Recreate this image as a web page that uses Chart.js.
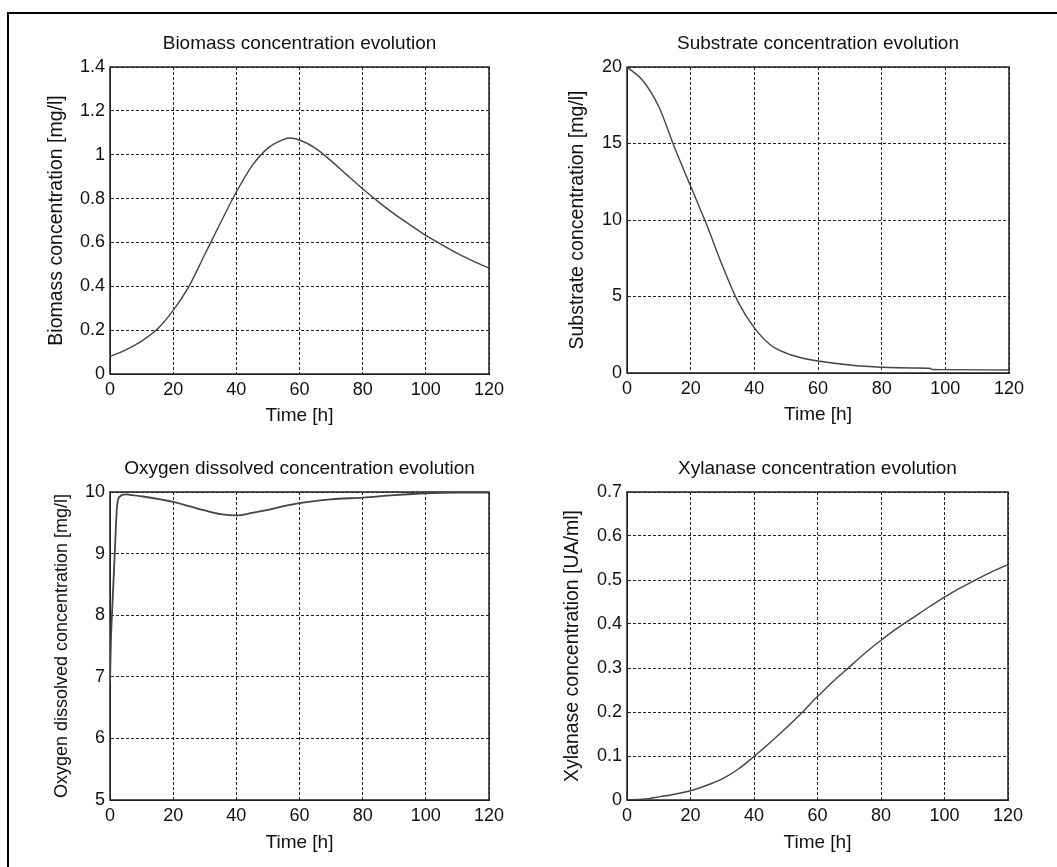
<!DOCTYPE html>
<html>
<head>
<meta charset="utf-8">
<script src="https://cdn.jsdelivr.net/npm/chart.js@4.4.1/dist/chart.umd.min.js"></script>
<style>
  body { margin: 0; background: #fff; width: 1057px; height: 867px; overflow: hidden; position: relative; }
  .frame { position: absolute; left: 7px; top: 12px; width: 1070px; height: 880px; border-top: 2px solid #000; border-left: 2px solid #000; }
  canvas { position: absolute; }
</style>
</head>
<body>
<div class="frame"></div>
<canvas id="biomass"></canvas>
<canvas id="substrate"></canvas>
<canvas id="oxygen"></canvas>
<canvas id="xylanase"></canvas>
<script>
// Fermentation model: four state variables against time.

const timeTicks = [0, 20, 40, 60, 80, 100, 120];

const biomassTime = [0, 5, 10, 15, 20, 25, 30, 35, 40, 45, 50, 55, 57, 60, 65, 70, 75, 80, 85, 90, 95, 100, 105, 110, 115, 120];
const biomassValues = [0.08, 0.11, 0.15, 0.205, 0.29, 0.40, 0.545, 0.69, 0.83, 0.95, 1.03, 1.07, 1.076, 1.067, 1.03, 0.972, 0.908, 0.845, 0.785, 0.73, 0.68, 0.632, 0.59, 0.55, 0.515, 0.483];
const biomassTicks = [0, 0.2, 0.4, 0.6, 0.8, 1, 1.2, 1.4];

const substrateTime = [0, 5, 10, 15, 20, 25, 30, 35, 40, 45, 50, 55, 60, 70, 80, 90, 95, 96, 100, 120];
const substrateValues = [20, 19.1, 17.4, 14.7, 12.2, 9.7, 7.0, 4.6, 2.95, 1.85, 1.3, 0.98, 0.78, 0.52, 0.38, 0.33, 0.31, 0.23, 0.22, 0.2];
const substrateTicks = [0, 5, 10, 15, 20];

const oxygenTime = [0, 0.3, 0.8, 1.5, 2.2, 3, 5, 7, 10, 20, 25, 30, 35, 40, 45, 50, 55, 60, 70, 80, 90, 100, 110, 120];
const oxygenValues = [6.9, 7.6, 8.2, 9.0, 9.75, 9.92, 9.96, 9.95, 9.93, 9.84, 9.77, 9.70, 9.64, 9.62, 9.66, 9.71, 9.77, 9.82, 9.88, 9.91, 9.95, 9.98, 9.99, 9.99];
const oxygenTicks = [5, 6, 7, 8, 9, 10];

const xylanaseTime = [0, 5, 10, 15, 20, 25, 30, 35, 40, 45, 50, 55, 60, 65, 70, 75, 80, 85, 90, 95, 100, 105, 110, 115, 120];
const xylanaseValues = [0, 0.002, 0.007, 0.013, 0.021, 0.033, 0.048, 0.07, 0.099, 0.13, 0.163, 0.198, 0.235, 0.27, 0.302, 0.334, 0.363, 0.39, 0.414, 0.438, 0.461, 0.482, 0.501, 0.519, 0.535];
const xylanaseTicks = [0, 0.1, 0.2, 0.3, 0.4, 0.5, 0.6, 0.7];

const FONT = "'Liberation Sans', Arial, Helvetica, sans-serif";
const PAD_L = 80, PAD_R = 21, PAD_T = 47, PAD_B = 61;

// closed axes box, like matlab's "box on"
const boxPlugin = {
  id: 'box',
  beforeDatasetsDraw(chart) {
    const { ctx, chartArea: a } = chart;
    ctx.save();
    ctx.strokeStyle = '#222';
    ctx.lineWidth = 1.5;
    ctx.strokeRect(a.left, a.top, a.right - a.left, a.bottom - a.top);
    ctx.restore();
  },
};

function mountPanel(id, p) {
  const canvas = document.getElementById(id);
  canvas.width = p.area.right - p.area.left + PAD_L + PAD_R;
  canvas.height = p.area.bottom - p.area.top + PAD_T + PAD_B;
  canvas.style.left = (p.area.left - PAD_L) + 'px';
  canvas.style.top = (p.area.top - PAD_T) + 'px';

  const grid = { color: '#222', lineWidth: 1, drawTicks: false };
  const border = { display: true, color: '#222', width: 1, dash: [3, 2] };

  return new Chart(canvas, {
    type: 'line',
    data: {
      datasets: [{
        data: p.time.map((t, i) => ({ x: t, y: p.values[i] })),
        borderColor: '#444',
        borderWidth: p.lineWidth || 1.4,
        pointRadius: 0,
        cubicInterpolationMode: 'monotone',
        fill: false,
      }],
    },
    options: {
      responsive: false,
      animation: false,
      layout: { padding: { left: 0, right: PAD_R, top: 0, bottom: 0 } },
      plugins: {
        legend: { display: false },
        tooltip: { enabled: false },
        title: {
          display: true,
          text: p.title,
          fullSize: false,
          color: '#111',
          font: { family: FONT, size: 19, weight: 'normal' },
          padding: { top: 12, bottom: 12.2 },
        },
      },
      scales: {
        x: {
          type: 'linear',
          min: 0, max: 120,
          afterBuildTicks: (s) => { s.ticks = timeTicks.map((v) => ({ value: v })); },
          afterFit: (s) => { s.height = PAD_B; },
          grid, border,
          ticks: { color: '#111', padding: 5, font: { family: FONT, size: 18 }, callback: (v) => String(v) },
          title: { display: true, text: 'Time [h]', color: '#111', padding: { top: 0, bottom: p.xPad }, font: { family: FONT, size: 19 } },
        },
        y: {
          type: 'linear',
          min: p.ticks[0], max: p.ticks[p.ticks.length - 1],
          afterBuildTicks: (s) => { s.ticks = p.ticks.map((v) => ({ value: v })); },
          afterFit: (s) => { s.width = PAD_L; },
          grid, border,
          ticks: { color: '#111', padding: 5, font: { family: FONT, size: 18 }, callback: (v) => String(v) },
          title: { display: true, text: p.yLabel, color: '#111', padding: { top: p.yPad, bottom: 0 }, font: { family: FONT, size: p.yFont || 19.5 } },
        },
      },
    },
    plugins: [boxPlugin],
  });
}

mountPanel('biomass', {
  area: { left: 110, right: 489, top: 67, bottom: 374 },
  title: 'Biomass concentration evolution',
  yLabel: 'Biomass concentration [mg/l]',
  time: biomassTime, values: biomassValues, ticks: biomassTicks,
  xPad: 8, yPad: 15,
});

mountPanel('substrate', {
  area: { left: 627, right: 1009, top: 67, bottom: 373 },
  title: 'Substrate concentration evolution',
  yLabel: 'Substrate concentration [mg/l]',
  time: substrateTime, values: substrateValues, ticks: substrateTicks,
  xPad: 8, yPad: 19,
});

mountPanel('oxygen', {
  area: { left: 110, right: 489, top: 492, bottom: 800 },
  title: 'Oxygen dissolved concentration evolution',
  yLabel: 'Oxygen dissolved concentration [mg/l]',
  time: oxygenTime, values: oxygenValues, ticks: oxygenTicks,
  xPad: 7, yPad: 21, yFont: 18, lineWidth: 1.8,
});

mountPanel('xylanase', {
  area: { left: 627, right: 1008, top: 492, bottom: 800 },
  title: 'Xylanase concentration evolution',
  yLabel: 'Xylanase concentration [UA/ml]',
  time: xylanaseTime, values: xylanaseValues, ticks: xylanaseTicks,
  xPad: 7, yPad: 14,
});
</script>
</body>
</html>
